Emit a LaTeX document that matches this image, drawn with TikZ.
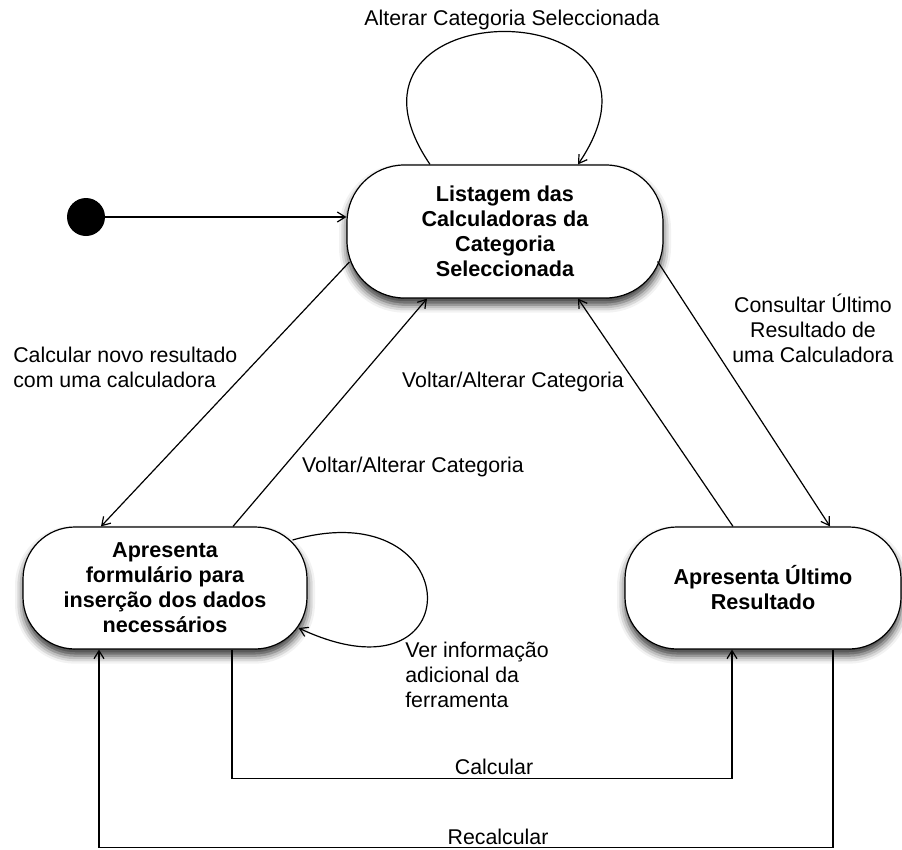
\documentclass[tikz,border=0pt]{standalone}
\usepackage{fontspec}
\setmainfont{Liberation Sans}
\usetikzlibrary{arrows.meta,shadows.blur}

\begin{document}
\begin{tikzpicture}[x=0.75pt,y=-0.75pt,
  every node/.style={font=\fontsize{16}{18.75}\selectfont},
  state/.style={draw, line width=0.9pt, fill=white, align=center,
    font=\fontsize{16.2}{18.75}\selectfont\bfseries,
    blur shadow={shadow xshift=0pt, shadow yshift=-5pt,
      shadow blur radius=6pt, shadow opacity=80}},
  trans/.style={line width=0.9pt, -{Straight Barb[length=6pt,width=7.5pt]}},
  lbl/.style={inner sep=0pt}]

\useasboundingbox (0,0) rectangle (902,849);

% states
\node[state, minimum width=237pt, minimum height=99.75pt, rounded corners=43pt]
  (list) at (505,231.5) {Listagem das\\Calculadoras da\\Categoria\\Seleccionada};
\node[state, minimum width=213pt, minimum height=91.5pt, rounded corners=39pt]
  (form) at (165,588) {Apresenta\\formulário para\\inserção dos dados\\necessários};
\node[state, minimum width=207pt, minimum height=91.5pt, rounded corners=39pt]
  (last) at (763,588) {Apresenta Último\\Resultado};
\node[circle, fill=black, minimum size=28.5pt, inner sep=0pt] (init) at (86,217) {};

% transitions
\draw[trans] (init) -- (init -| list.west);
\draw[trans] ([shift={(-75,0)}]list.north)
  .. controls +(-120,-177) and +(120,-177) .. ([shift={(73,0)}]list.north);
\draw[trans] ([shift={(3,30.5)}]list.west) -- ([shift={(-64,0)}]form.north);
\draw[trans] ([shift={(68,0)}]form.north) -- ([shift={(-78,0)}]list.south);
\draw[trans] ([shift={(-30,0)}]last.north) -- ([shift={(73,0)}]list.south);
\draw[trans] ([shift={(-6,30)}]list.east) -- ([shift={(67,0)}]last.north);
\draw[trans] ([shift={(-15,-48)}]form.east)
  .. controls +(176,-50) and +(175,82) .. ([shift={(-9,40)}]form.east);
\draw[trans] ([shift={(67,0)}]form.south) -- ++(0,129) -| ([shift={(-31,0)}]last.south);
\draw[trans] ([shift={(70,0)}]last.south) -- ++(0,198) -| ([shift={(-66,0)}]form.south);

% labels
\node[lbl] (tAlt) at (512,20) {Alterar Categoria Seleccionada};
\node[lbl, anchor=west, align=left] (tNovo) at (13,367.5) {Calcular novo resultado\\com uma calculadora};
\node[lbl] (tVolA) at (413,467) {Voltar/Alterar Categoria};
\node[lbl] (tVolB) at (513,382) {Voltar/Alterar Categoria};
\node[lbl, align=center] (tCons) at (813,328) {Consultar Último\\Resultado de\\uma Calculadora};
\node[lbl, anchor=west, align=left] (tInfo) at (405,675) {Ver informação\\adicional da\\ferramenta};
\node[lbl] (tCalc) at (494,767) {Calcular};
\node[lbl] (tRec) at (498,837) {Recalcular};
\end{tikzpicture}
\end{document}
